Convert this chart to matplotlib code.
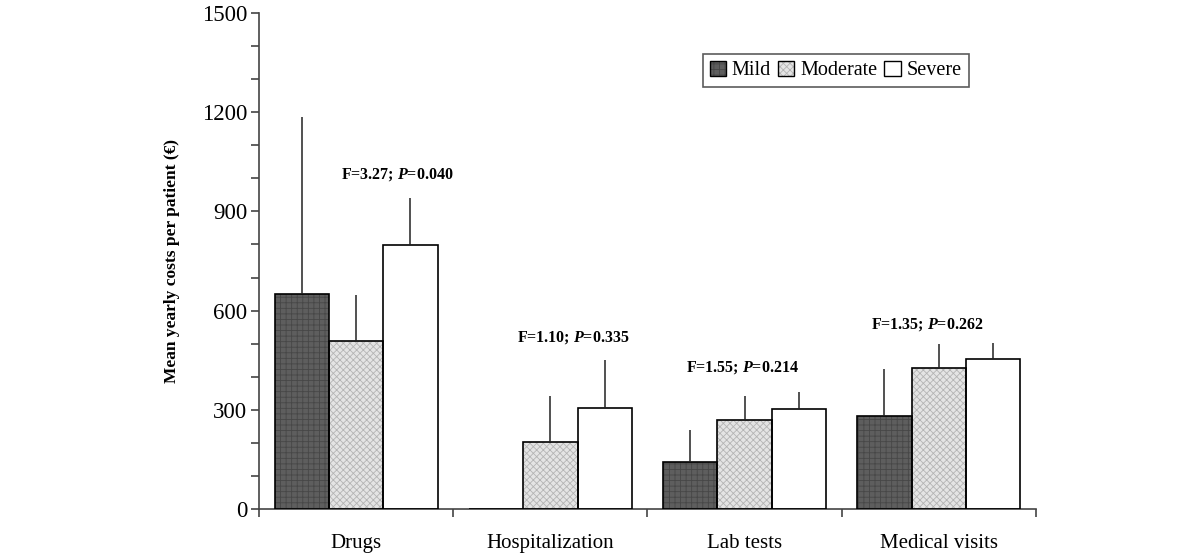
import matplotlib
matplotlib.use("Agg")
import matplotlib.pyplot as plt
from matplotlib.patches import Patch
from matplotlib.ticker import MultipleLocator
import numpy as np

categories = ["Drugs", "Hospitalization", "Lab tests", "Medical visits"]
groups = ["Mild", "Moderate", "Severe"]

# mean yearly costs (EUR) per severity group
mild = [650, 0, 142, 282]
moderate = [507, 204, 269, 426]
severe = [797, 305, 302, 454]

# upper error (SD) drawn above each bar
mild_err = [535, 0, 97, 141]
moderate_err = [140, 138, 73, 73]
severe_err = [143, 145, 52, 48]

stats = ["F=3.27; ", "F=1.10; ", "F=1.55; ", "F=1.35; "]
pvals = ["0.040", "0.335", "0.214", "0.262"]
stat_x = [0.21, 1.12, 1.99, 2.94]
stat_y = [1010, 520, 429, 559]

plt.rcParams["font.family"] = ["Liberation Serif", "DejaVu Serif"]
plt.rcParams["mathtext.fontset"] = "custom"
plt.rcParams["mathtext.bfit"] = "Liberation Serif:italic:bold"
plt.rcParams["mathtext.it"] = "Liberation Serif:italic"
plt.rcParams["mathtext.rm"] = "Liberation Serif"
plt.rcParams["hatch.linewidth"] = 0.6

fig = plt.figure(figsize=(12, 5.58), dpi=100)
ax = fig.add_axes([0.2158, 0.0878, 0.6475, 0.8889])

x = np.arange(len(categories))
w = 0.28

styles = [
    dict(face="#5e5e5e", hatch="+++", hcol="#474747"),
    dict(face="#e4e4e4", hatch="xxxxx", hcol="#b4b4b4"),
    dict(face="white", hatch=None, hcol="white"),
]
series = [mild, moderate, severe]
errs = [mild_err, moderate_err, severe_err]

handles = []
for i, (vals, err, st) in enumerate(zip(series, errs, styles)):
    pos = x + (i - 1) * w
    # fill + hatch first, then a plain black outline on top
    ax.bar(pos, vals, w, color=st["face"], hatch=st["hatch"],
           edgecolor=st["hcol"], linewidth=0, zorder=2)
    ax.bar(pos, vals, w, fill=False, edgecolor="black",
           linewidth=1.2, zorder=3)
    ax.errorbar(pos, vals, yerr=[np.zeros(len(vals)), err], fmt="none",
                ecolor="#222222", elinewidth=1.1, capsize=0, zorder=4)
    fill = Patch(facecolor=st["face"], hatch=st["hatch"],
                 edgecolor=st["hcol"], linewidth=0)
    outline = Patch(fill=False, edgecolor="black", linewidth=1.0)
    handles.append((fill, outline))

for sx, sy, s, p in zip(stat_x, stat_y, stats, pvals):
    ax.text(sx, sy, s + r"$\bfit{P}$" + "=" + p, ha="center", va="center",
            fontsize=11.5, fontweight="bold")

ax.set_ylim(0, 1500)
ax.set_xlim(-0.5, len(categories) - 0.5)
ax.yaxis.set_major_locator(MultipleLocator(300))
ax.yaxis.set_minor_locator(MultipleLocator(100))
ax.tick_params(axis="y", which="both", direction="out", length=5.5,
               width=1.2, color="#444444", labelsize=16.5, pad=3)

ax.set_xticks(np.arange(-0.5, len(categories), 1.0))
ax.set_xticklabels([])
ax.set_xticks(x, minor=True)
ax.set_xticklabels(categories, minor=True, fontsize=15)
ax.tick_params(axis="x", which="major", direction="out", length=6,
               width=1.2, color="#444444")
ax.tick_params(axis="x", which="minor", length=0, pad=18)

for side in ["top", "right"]:
    ax.spines[side].set_visible(False)
for side in ["left", "bottom"]:
    ax.spines[side].set_linewidth(1.2)
    ax.spines[side].set_color("#444444")

ax.set_ylabel("Mean yearly costs per patient (\u20ac)", fontsize=12.5,
              fontweight="bold", labelpad=16)

leg = ax.legend(handles, groups, ncol=3, loc="upper left",
                bbox_to_anchor=(0.571, 0.918), borderaxespad=0,
                fontsize=14.5, frameon=True, fancybox=False,
                handlelength=0.8, handleheight=0.8, handletextpad=0.3,
                columnspacing=0.35, borderpad=0.35)
leg.get_frame().set_edgecolor("#333333")
leg.get_frame().set_linewidth(1.2)

fig.savefig("out.png", dpi=100)
